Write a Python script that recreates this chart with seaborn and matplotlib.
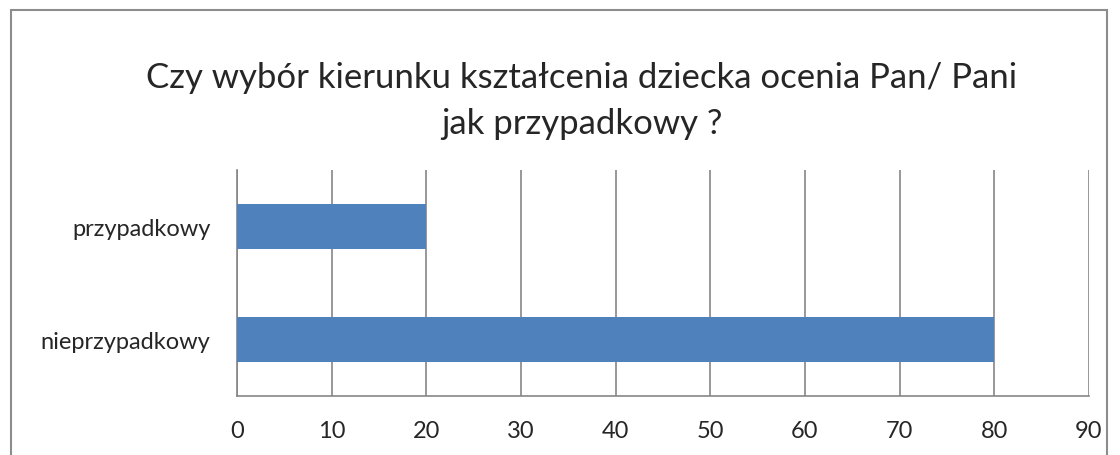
import matplotlib
matplotlib.use("Agg")
import matplotlib.pyplot as plt
import seaborn as sns
import pandas as pd
from matplotlib.patches import Rectangle
from matplotlib.ticker import FixedLocator, MultipleLocator

categories = ["przypadkowy", "nieprzypadkowy"]
values = [20, 80]
title = "Czy wybór kierunku kształcenia dziecka ocenia Pan/ Pani\njak przypadkowy ?"

sns.set_style("white")
plt.rcParams['font.family'] = ['Lato', 'DejaVu Sans']

df = pd.DataFrame({"kategoria": categories, "wartosc": values})

fig = plt.figure(figsize=(11.2, 4.56), dpi=100)
ax = fig.add_axes([237/1120, 1-397/456, (1089-237)/1120, (397-171)/456])

sns.barplot(data=df, x="wartosc", y="kategoria", order=categories, color="#4F81BD",
            saturation=1, width=0.4, ax=ax, zorder=3, linewidth=0, edgecolor="none")

grid_c = "#868686"
ax.set_xlim(0, 90)
ax.set_ylim(1.5, -0.5)
ax.xaxis.set_major_locator(MultipleLocator(10))
ax.grid(axis="x", color=grid_c, linewidth=1.2, zorder=0)
ax.set_axisbelow(True)
for s in ["top", "right"]:
    ax.spines[s].set_visible(False)
for s in ["left", "bottom"]:
    ax.spines[s].set_color(grid_c)
    ax.spines[s].set_linewidth(1.2)

ax.yaxis.set_minor_locator(FixedLocator([-0.5, 0.5, 1.5]))
ax.tick_params(axis="y", which="major", length=0, pad=19, labelsize=17)
ax.tick_params(axis="y", which="minor", length=6, width=1.2, color=grid_c, direction="out")
ax.tick_params(axis="x", which="major", length=6, width=1.2, color=grid_c, direction="out",
               labelsize=17, pad=11)
ax.set_xlabel("")
ax.set_ylabel("")

fig.text(582/1120, 1-101/456, title, ha="center", va="center", fontsize=25, linespacing=1.5)

fig.patches.append(Rectangle((11/1120, -0.1), (1107-11)/1120, 1.1-11/456,
                             transform=fig.transFigure, fill=False,
                             edgecolor="#8C8C8C", linewidth=1.5))

fig.savefig("out.png", dpi=100)
